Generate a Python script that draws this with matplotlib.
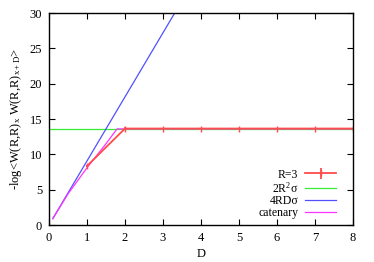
import numpy as np
import matplotlib
matplotlib.use("Agg")
import matplotlib.pyplot as plt

plt.rcParams['font.family'] = ['Liberation Serif', 'DejaVu Serif']
plt.rcParams['mathtext.fontset'] = 'custom'
plt.rcParams['mathtext.rm'] = 'Liberation Serif'
plt.rcParams['mathtext.it'] = 'Liberation Serif'
plt.rcParams['font.size'] = 9

# R=3 measurements
r3_D = [1, 2, 3, 4, 5, 6, 7, 8]
r3_val = [8.35, 13.65, 13.65, 13.65, 13.65, 13.65, 13.65, 13.65]
r3_err = [0.15, 0.15, 0.12, 0.12, 0.12, 0.12, 0.12, 0.12]

# model curves
sigma = 13.6 / 18.0
R = 3
D_line = [0.1, 8.0]
D_cat = [0.1, 0.5, 1.0, 1.5, 1.79, 8.0]
cat_val = [0.9, 4.4, 8.1, 11.5, 13.6, 13.6]

fig = plt.figure(figsize=(3.74, 2.62), dpi=100)
ax = fig.add_axes([49 / 374, 1 - 225 / 262, (353 - 49) / 374, (225 - 13) / 262])

h_r3 = ax.errorbar(r3_D, r3_val, yerr=r3_err, color='#ff4c4c', lw=1.3,
                   capsize=0, marker='|', ms=4, mew=1, label='R=3')
h_g, = ax.plot([0, 8], [2 * R**2 * sigma] * 2, color='#33ee33', lw=0.9,
               label='2R$^2$σ')
h_b, = ax.plot(D_line, [4 * R * d * sigma for d in D_line], color='#5050ff',
               lw=0.9, label='4RDσ')
h_c, = ax.plot(D_cat, cat_val, color='#ff33ff', lw=0.9, label='catenary')

ax.set_xlim(0, 8)
ax.set_ylim(0, 30)
ax.set_xticks(range(0, 9))
ax.set_yticks(range(0, 31, 5))
ax.tick_params(direction='in', top=True, right=True, length=4, width=0.8,
               labelsize=9, pad=5)
for s in ax.spines.values():
    s.set_linewidth(1.0)

ax.set_xlabel('D', fontsize=9, labelpad=3)
ax.set_ylabel(r'-log<W(R,R)$_{\rm x}$ W(R,R)$_{\rm x+D}$>', fontsize=9,
              labelpad=4)

leg = ax.legend([h_r3, h_g, h_b, h_c], ['R=3', '2R$^2$σ', '4RDσ', 'catenary'],
                loc='lower right', bbox_to_anchor=(0.96, 0.005),
                frameon=False, fontsize=8.5, markerfirst=False,
                handlelength=2.6, labelspacing=0.0, handletextpad=0.6,
                borderaxespad=0)

fig.savefig('out.png', dpi=100)
